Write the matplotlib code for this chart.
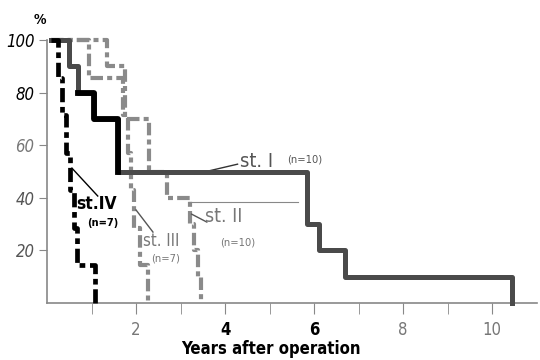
import matplotlib
matplotlib.use("Agg")
import matplotlib.pyplot as plt
from matplotlib.ticker import FixedLocator

# Kaplan-Meier style survival curves by stage
st1_t = [0.1, 0.5, 0.7, 1.05, 1.6, 5.85, 6.1, 6.7, 10.45]
st1_s = [100, 90, 80, 70, 50, 30, 20, 10, 0]

st2_t = [0.1, 1.35, 1.75, 2.3, 2.7, 3.22, 3.3, 3.4, 3.47]
st2_s = [100, 90, 70, 50, 40, 30, 20, 10, 0]

st3_t = [0.1, 0.95, 1.7, 1.82, 1.88, 1.95, 2.1, 2.27]
st3_s = [100, 85.7, 71.4, 57.1, 42.9, 28.6, 14.3, 0]

st4_t = [0.1, 0.25, 0.34, 0.43, 0.52, 0.6, 0.67, 1.07]
st4_s = [100, 85.7, 71.4, 57.1, 42.9, 28.6, 14.3, 0]

x_ticks = [2, 4, 6, 8, 10]
x_minor = [1, 3, 5, 7, 9]
y_ticks = [20, 40, 60, 80, 100]
x_label_colors = ["#777777", "black", "black", "#777777", "#777777"]
y_label_colors = ["#555555", "#555555", "#777777", "black", "black"]

plt.rcParams["font.family"] = ["DejaVu Sans"]
plt.rcParams["font.stretch"] = "condensed"

fig = plt.figure(figsize=(5.4, 3.6), dpi=100)
ax = fig.add_axes([0.087, 0.158, 0.907, 0.731])

dashdot = (0, (3, 1, 1.2, 1))

# stage II and III: grey dash-dot
ax.plot(st2_t, st2_s, drawstyle="steps-post", color="#8a8a8a", lw=3,
        ls=dashdot, clip_on=False, zorder=2)
ax.plot(st3_t, st3_s, drawstyle="steps-post", color="#8a8a8a", lw=3,
        ls=dashdot, clip_on=False, zorder=2)
# stage I: thick solid, first part printed darker
ax.plot(st1_t, st1_s, drawstyle="steps-post", color="#4a4a4a", lw=3.6,
        clip_on=False, zorder=3)
ax.plot(st1_t[2:5], st1_s[2:5], drawstyle="steps-post", color="black", lw=4.2,
        clip_on=False, zorder=4)
# stage IV: black dash-dot
ax.plot(st4_t, st4_s, drawstyle="steps-post", color="black", lw=3.4,
        ls=dashdot, clip_on=False, zorder=5)

# thin stray line at ~40 %
ax.plot([3.2, 5.63], [38.5, 38.5], color="#888888", lw=0.8)

# labels with leader lines
ax.plot([3.32, 4.28], [49, 52.8], color="#333333", lw=1)
ax.text(4.33, 54, "st. I", fontsize=14.5, color="#555555", va="center")
ax.text(5.4, 54.5, "(n=10)", fontsize=8, color="#555555", va="center")

ax.plot([0.56, 1.14], [51.3, 40.7], color="black", lw=1)
ax.text(0.66, 37.5, "st.IV", fontsize=12.5, color="black", va="center",
        fontweight="bold")
ax.text(0.9, 30.5, "(n=7)", fontsize=8, color="black", va="center",
        fontweight="bold")

ax.plot([2.0, 2.38], [35.4, 27], color="#555555", lw=1)
ax.text(2.15, 23.5, "st. III", fontsize=12, color="#777777", va="center")
ax.text(2.35, 17, "(n=7)", fontsize=8, color="#777777", va="center")

ax.plot([3.25, 3.59], [33.8, 30.8], color="#555555", lw=1)
ax.text(3.56, 33, "st. II", fontsize=14, color="#777777", va="center")
ax.text(3.88, 23, "(n=10)", fontsize=8, color="#777777", va="center")

ax.set_xlim(0, 11)
ax.set_ylim(0, 100)
for side in ("top", "right"):
    ax.spines[side].set_visible(False)
for side in ("left", "bottom"):
    ax.spines[side].set_color("#888888")
    ax.spines[side].set_linewidth(1.2)

ax.xaxis.set_major_locator(FixedLocator(x_ticks))
ax.xaxis.set_minor_locator(FixedLocator(x_minor))
ax.set_xticklabels([str(v) for v in x_ticks], fontsize=12)
ax.set_yticks(y_ticks)
ax.set_yticklabels([str(v) for v in y_ticks], fontsize=12, style="italic")
ax.tick_params(axis="x", which="both", length=8, color="#888888", pad=5)
ax.tick_params(axis="y", length=6, color="#888888", pad=3)
for lab, c in zip(ax.get_xticklabels(), x_label_colors):
    lab.set_color(c)
    if c == "black":
        lab.set_fontweight("bold")
for lab, c in zip(ax.get_yticklabels(), y_label_colors):
    lab.set_color(c)

fig.text(0.502, 0.006, "Years after operation", fontsize=12, fontweight="bold",
         ha="center", va="bottom")
fig.text(0.074, 0.945, "%", fontsize=10, fontweight="bold", ha="center",
         va="center")

fig.savefig("out.png", dpi=100)
